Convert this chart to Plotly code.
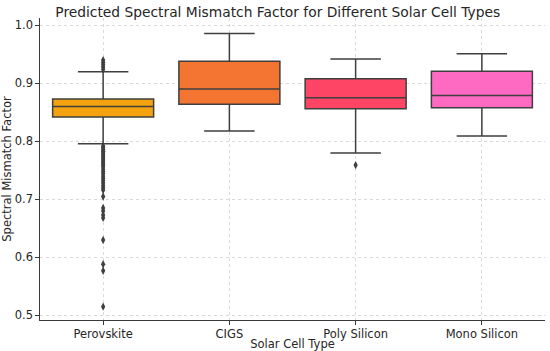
import plotly.graph_objects as go

categories = ["Perovskite", "CIGS", "Poly Silicon", "Mono Silicon"]
q1 = [0.842, 0.864, 0.856, 0.858]
median = [0.860, 0.890, 0.875, 0.879]
q3 = [0.873, 0.938, 0.908, 0.921]
lower_whisker = [0.796, 0.818, 0.780, 0.809]
upper_whisker = [0.920, 0.986, 0.942, 0.951]
colors = ["#F4A30E", "#F47532", "#FE4566", "#FE69C2"]

outlier_cats = (["Perovskite"] * 37) + ["Poly Silicon"]
outlier_vals = [0.940, 0.936, 0.932, 0.928, 0.924,
                0.792, 0.789, 0.786, 0.783, 0.780, 0.777, 0.774, 0.771,
                0.768, 0.765, 0.762, 0.759, 0.756, 0.752, 0.748, 0.744,
                0.740, 0.736, 0.732, 0.728, 0.724, 0.720, 0.716, 0.705,
                0.685, 0.680, 0.673, 0.668, 0.630, 0.588, 0.577, 0.515,
                0.759]

fig = go.Figure()
for i, cat in enumerate(categories):
    fig.add_trace(go.Box(
        x=[cat], q1=[q1[i]], median=[median[i]], q3=[q3[i]],
        lowerfence=[lower_whisker[i]], upperfence=[upper_whisker[i]],
        fillcolor=colors[i], line=dict(color="#3f3f3f", width=1.5),
        width=0.8, whiskerwidth=0.5, boxpoints=False, showlegend=False,
    ))

fig.add_trace(go.Scatter(
    x=outlier_cats, y=outlier_vals, mode="markers",
    marker=dict(symbol="diamond-tall", size=6, color="#3f3f3f"),
    showlegend=False, hoverinfo="y",
))

axis_common = dict(
    showline=True, linecolor="#3a3a3a", linewidth=1.25,
    ticks="outside", ticklen=3.5, tickcolor="#3a3a3a", tickwidth=1,
    showgrid=True, gridcolor="#dadada", griddash="dot", gridwidth=1,
    zeroline=False, tickfont=dict(size=11.5, color="#262626"),
    mirror=False, automargin=False,
)

fig.update_layout(
    width=550, height=351,
    margin=dict(l=40, r=5, t=18, b=31),
    paper_bgcolor="white", plot_bgcolor="white",
    font=dict(family="DejaVu Sans", color="#262626"),
    boxmode="overlay",
    title=dict(text="Predicted Spectral Mismatch Factor for Different Solar Cell Types",
               x=0.505, xanchor="center", y=0.966, yanchor="middle",
               font=dict(size=13.8, color="#262626")),
    xaxis=dict(axis_common, categoryorder="array", categoryarray=categories,
               range=[-0.5, 3.5],
               title=dict(text="Solar Cell Type", font=dict(size=11.5), standoff=0)),
    yaxis=dict(axis_common, range=[0.492, 1.0126], tickvals=[0.5, 0.6, 0.7, 0.8, 0.9, 1.0],
               tickformat=".1f",
               title=dict(text="Spectral Mismatch Factor", font=dict(size=11.5), standoff=0)),
)

fig.write_html("out.html", config={"displayModeBar": False},
               post_script="document.body.style.margin='0';")
